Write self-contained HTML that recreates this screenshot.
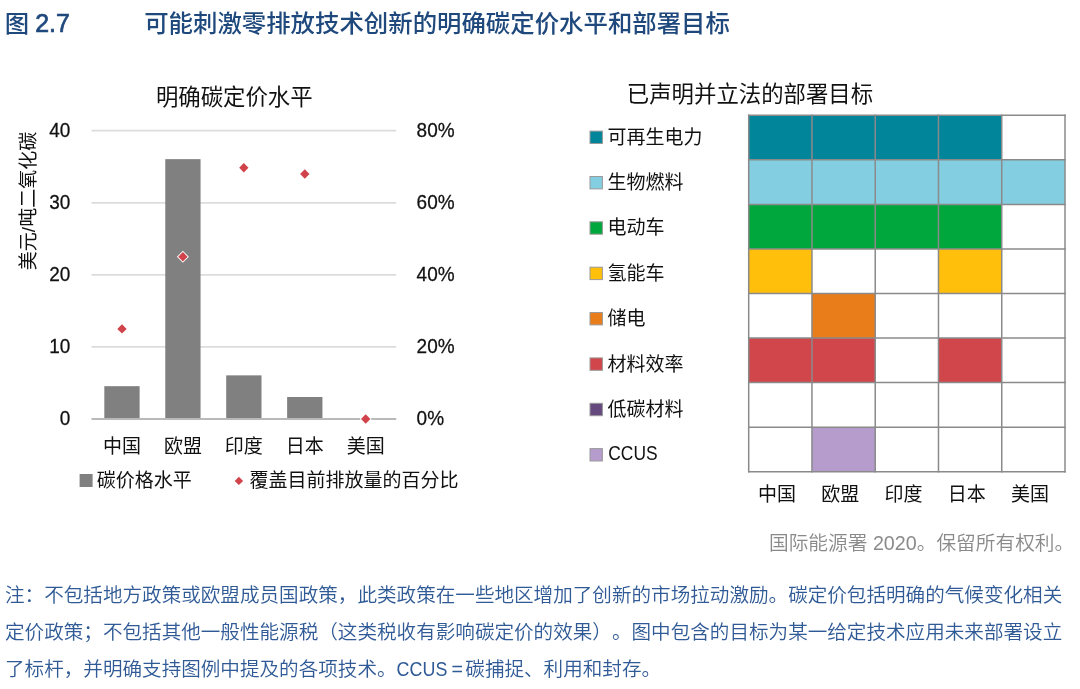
<!DOCTYPE html>
<html lang="zh-CN">
<head>
<meta charset="utf-8">
<title>图 2.7 可能刺激零排放技术创新的明确碳定价水平和部署目标</title>
<style>
html,body{margin:0;padding:0;background:#fff;}
body{width:1080px;height:689px;position:relative;overflow:hidden;font-family:"Liberation Sans", "Noto Sans CJK SC", sans-serif;}
svg{position:absolute;left:0;top:0;}
text{font-family:"Liberation Sans", "Noto Sans CJK SC", sans-serif;text-spacing-trim:space-all;font-kerning:none;}
.t{fill:#1f497d;font-weight:500;font-size:24.41px;}
.ct{fill:#111;font-size:22.4px;}
.ax{fill:#111;font-size:19px;}
.num{fill:#111;font-size:19px;stroke:#111;stroke-width:0.25;}
.src{fill:#8a8a8a;font-size:19.7px;font-weight:350;}
.note{fill:#2f5a96;font-size:19.58px;font-weight:350;}
</style>
</head>
<body>
<svg width="1080" height="689" viewBox="0 0 1080 689">
<text class="t" x="4.7" y="31.5">图</text>
<text class="t" transform="translate(35.2,31.5) scale(1.02,1.06)" stroke="#1f497d" stroke-width="0.7">2.7</text>
<text class="t" x="144.2" y="31.5">可能刺激零排放技术创新的明确碳定价水平和部署目标</text>
<text class="ct" x="234.3" y="105.2" text-anchor="middle">明确碳定价水平</text>
<line x1="91.5" x2="396.2" y1="346.93" y2="346.93" stroke="#dcdcdc" stroke-width="1.8"/>
<line x1="91.5" x2="396.2" y1="274.86" y2="274.86" stroke="#dcdcdc" stroke-width="1.8"/>
<line x1="91.5" x2="396.2" y1="202.79" y2="202.79" stroke="#dcdcdc" stroke-width="1.8"/>
<line x1="91.5" x2="396.2" y1="130.72" y2="130.72" stroke="#dcdcdc" stroke-width="1.8"/>
<rect x="104.32" y="386.17" width="35.30" height="32.83" fill="#808080"/>
<rect x="165.26" y="159.15" width="35.30" height="259.85" fill="#808080"/>
<rect x="226.20" y="375.36" width="35.30" height="43.64" fill="#808080"/>
<rect x="287.14" y="396.98" width="35.30" height="22.02" fill="#808080"/>
<line x1="91.5" x2="396.2" y1="419.00" y2="419.00" stroke="#b9b9b9" stroke-width="1.8"/>
<text class="num" transform="translate(70.3,424.9) scale(1,1.075)" text-anchor="end">0</text>
<text class="num" transform="translate(416.6,424.9) scale(1,1.075)">0%</text>
<text class="num" transform="translate(70.3,352.8) scale(1,1.075)" text-anchor="end">10</text>
<text class="num" transform="translate(416.6,352.8) scale(1,1.075)">20%</text>
<text class="num" transform="translate(70.3,280.8) scale(1,1.075)" text-anchor="end">20</text>
<text class="num" transform="translate(416.6,280.8) scale(1,1.075)">40%</text>
<text class="num" transform="translate(70.3,208.7) scale(1,1.075)" text-anchor="end">30</text>
<text class="num" transform="translate(416.6,208.7) scale(1,1.075)">60%</text>
<text class="num" transform="translate(70.3,136.6) scale(1,1.075)" text-anchor="end">40</text>
<text class="num" transform="translate(416.6,136.6) scale(1,1.075)">80%</text>
<path d="M122.0 322.9L128.0 328.9L122.0 334.9L116.0 328.9Z" fill="#fff"/>
<path d="M122.0 324.2L126.7 328.9L122.0 333.6L117.3 328.9Z" fill="#d1434b"/>
<path d="M182.9 250.8L188.9 256.8L182.9 262.8L176.9 256.8Z" fill="#fff"/>
<path d="M182.9 252.1L187.6 256.8L182.9 261.5L178.2 256.8Z" fill="#d1434b"/>
<path d="M243.8 161.8L249.8 167.8L243.8 173.8L237.8 167.8Z" fill="#fff"/>
<path d="M243.8 163.1L248.5 167.8L243.8 172.5L239.2 167.8Z" fill="#d1434b"/>
<path d="M304.8 168.0L310.8 174.0L304.8 180.0L298.8 174.0Z" fill="#fff"/>
<path d="M304.8 169.3L309.5 174.0L304.8 178.7L300.1 174.0Z" fill="#d1434b"/>
<path d="M365.7 413.0L371.7 419.0L365.7 425.0L359.7 419.0Z" fill="#fff"/>
<path d="M365.7 414.3L370.4 419.0L365.7 423.7L361.0 419.0Z" fill="#d1434b"/>
<text class="ax" x="122.0" y="453" text-anchor="middle">中国</text>
<text class="ax" x="182.9" y="453" text-anchor="middle">欧盟</text>
<text class="ax" x="243.8" y="453" text-anchor="middle">印度</text>
<text class="ax" x="304.8" y="453" text-anchor="middle">日本</text>
<text class="ax" x="365.7" y="453" text-anchor="middle">美国</text>
<text class="ax" transform="translate(35.2,201) rotate(-90)" text-anchor="middle">美元/吨二氧化碳</text>
<rect x="79.6" y="474" width="13" height="13" fill="#808080"/>
<text class="ax" x="96.8" y="487.3">碳价格水平</text>
<path d="M238.9 476.7L243.1 480.9L238.9 485.1L234.7 480.9Z" fill="#d1434b"/>
<text class="ax" x="249.5" y="487.3">覆盖目前排放量的百分比</text>
<text class="ct" x="750" y="101.5" text-anchor="middle">已声明并立法的部署目标</text>
<rect x="748.70" y="115.30" width="63.26" height="44.55" fill="#00859b"/>
<rect x="811.96" y="115.30" width="63.26" height="44.55" fill="#00859b"/>
<rect x="875.22" y="115.30" width="63.26" height="44.55" fill="#00859b"/>
<rect x="938.48" y="115.30" width="63.26" height="44.55" fill="#00859b"/>
<rect x="748.70" y="159.85" width="63.26" height="44.55" fill="#83cee1"/>
<rect x="811.96" y="159.85" width="63.26" height="44.55" fill="#83cee1"/>
<rect x="875.22" y="159.85" width="63.26" height="44.55" fill="#83cee1"/>
<rect x="938.48" y="159.85" width="63.26" height="44.55" fill="#83cee1"/>
<rect x="1001.74" y="159.85" width="63.26" height="44.55" fill="#83cee1"/>
<rect x="748.70" y="204.40" width="63.26" height="44.55" fill="#00a73c"/>
<rect x="811.96" y="204.40" width="63.26" height="44.55" fill="#00a73c"/>
<rect x="875.22" y="204.40" width="63.26" height="44.55" fill="#00a73c"/>
<rect x="938.48" y="204.40" width="63.26" height="44.55" fill="#00a73c"/>
<rect x="748.70" y="248.95" width="63.26" height="44.55" fill="#ffbf0a"/>
<rect x="938.48" y="248.95" width="63.26" height="44.55" fill="#ffbf0a"/>
<rect x="811.96" y="293.50" width="63.26" height="44.55" fill="#e87d1a"/>
<rect x="748.70" y="338.05" width="63.26" height="44.55" fill="#d1464b"/>
<rect x="811.96" y="338.05" width="63.26" height="44.55" fill="#d1464b"/>
<rect x="938.48" y="338.05" width="63.26" height="44.55" fill="#d1464b"/>
<rect x="811.96" y="427.15" width="63.26" height="44.55" fill="#b59ccc"/>
<line x1="748.70" x2="748.70" y1="114.55" y2="472.45" stroke="#8a8a8a" stroke-width="1.5"/>
<line x1="811.96" x2="811.96" y1="114.55" y2="472.45" stroke="#8a8a8a" stroke-width="1.5"/>
<line x1="875.22" x2="875.22" y1="114.55" y2="472.45" stroke="#8a8a8a" stroke-width="1.5"/>
<line x1="938.48" x2="938.48" y1="114.55" y2="472.45" stroke="#8a8a8a" stroke-width="1.5"/>
<line x1="1001.74" x2="1001.74" y1="114.55" y2="472.45" stroke="#8a8a8a" stroke-width="1.5"/>
<line x1="1065.00" x2="1065.00" y1="114.55" y2="472.45" stroke="#8a8a8a" stroke-width="1.5"/>
<line x1="747.95" x2="1065.75" y1="115.30" y2="115.30" stroke="#8a8a8a" stroke-width="1.5"/>
<line x1="747.95" x2="1065.75" y1="159.85" y2="159.85" stroke="#8a8a8a" stroke-width="1.5"/>
<line x1="747.95" x2="1065.75" y1="204.40" y2="204.40" stroke="#8a8a8a" stroke-width="1.5"/>
<line x1="747.95" x2="1065.75" y1="248.95" y2="248.95" stroke="#8a8a8a" stroke-width="1.5"/>
<line x1="747.95" x2="1065.75" y1="293.50" y2="293.50" stroke="#8a8a8a" stroke-width="1.5"/>
<line x1="747.95" x2="1065.75" y1="338.05" y2="338.05" stroke="#8a8a8a" stroke-width="1.5"/>
<line x1="747.95" x2="1065.75" y1="382.60" y2="382.60" stroke="#8a8a8a" stroke-width="1.5"/>
<line x1="747.95" x2="1065.75" y1="427.15" y2="427.15" stroke="#8a8a8a" stroke-width="1.5"/>
<line x1="747.95" x2="1065.75" y1="471.70" y2="471.70" stroke="#8a8a8a" stroke-width="1.5"/>
<rect x="590" y="131.1" width="12.4" height="12.4" fill="#00859b" stroke="#9a9a9a" stroke-width="1"/>
<text class="ax" x="607.6" y="143.7">可再生电力</text>
<rect x="590" y="176.5" width="12.4" height="12.4" fill="#83cee1" stroke="#9a9a9a" stroke-width="1"/>
<text class="ax" x="607.6" y="189.1">生物燃料</text>
<rect x="590" y="221.8" width="12.4" height="12.4" fill="#00a73c" stroke="#9a9a9a" stroke-width="1"/>
<text class="ax" x="607.6" y="234.4">电动车</text>
<rect x="590" y="267.2" width="12.4" height="12.4" fill="#ffbf0a" stroke="#9a9a9a" stroke-width="1"/>
<text class="ax" x="607.6" y="279.8">氢能车</text>
<rect x="590" y="312.5" width="12.4" height="12.4" fill="#e87d1a" stroke="#9a9a9a" stroke-width="1"/>
<text class="ax" x="607.6" y="325.1">储电</text>
<rect x="590" y="357.9" width="12.4" height="12.4" fill="#d1464b" stroke="#9a9a9a" stroke-width="1"/>
<text class="ax" x="607.6" y="370.5">材料效率</text>
<rect x="590" y="403.3" width="12.4" height="12.4" fill="#65497f" stroke="#9a9a9a" stroke-width="1"/>
<text class="ax" x="607.6" y="415.9">低碳材料</text>
<rect x="590" y="448.6" width="12.4" height="12.4" fill="#b59ccc" stroke="#9a9a9a" stroke-width="1"/>
<text class="ax" transform="translate(608.3,460.3) scale(0.915,1.075)">CCUS</text>
<text class="ax" x="777.0" y="500.5" text-anchor="middle">中国</text>
<text class="ax" x="840.3" y="500.5" text-anchor="middle">欧盟</text>
<text class="ax" x="903.6" y="500.5" text-anchor="middle">印度</text>
<text class="ax" x="966.8" y="500.5" text-anchor="middle">日本</text>
<text class="ax" x="1030.1" y="500.5" text-anchor="middle">美国</text>
<text class="src" x="769" y="549.5">国际能源署 2020。保留所有权利。</text>
<text class="note" x="5" y="601.5">注：不包括地方政策或欧盟成员国政策，此类政策在一些地区增加了创新的市场拉动激励。碳定价包括明确的气候变化相关</text>
<text class="note" x="5" y="638.9">定价政策；不包括其他一般性能源税（这类税收有影响碳定价的效果）。图中包含的目标为某一给定技术应用未来部署设立</text>
<text class="note" x="5" y="676.3">了标杆，并明确支持图例中提及的各项技术。</text>
<text class="note" transform="translate(396.6,676.3) scale(0.915,1.06)">CCUS</text>
<text class="note" x="451.5" y="676.3">=</text>
<text class="note" x="465.3" y="676.3">碳捕捉、利用和封存。</text>
</svg>
</body>
</html>
